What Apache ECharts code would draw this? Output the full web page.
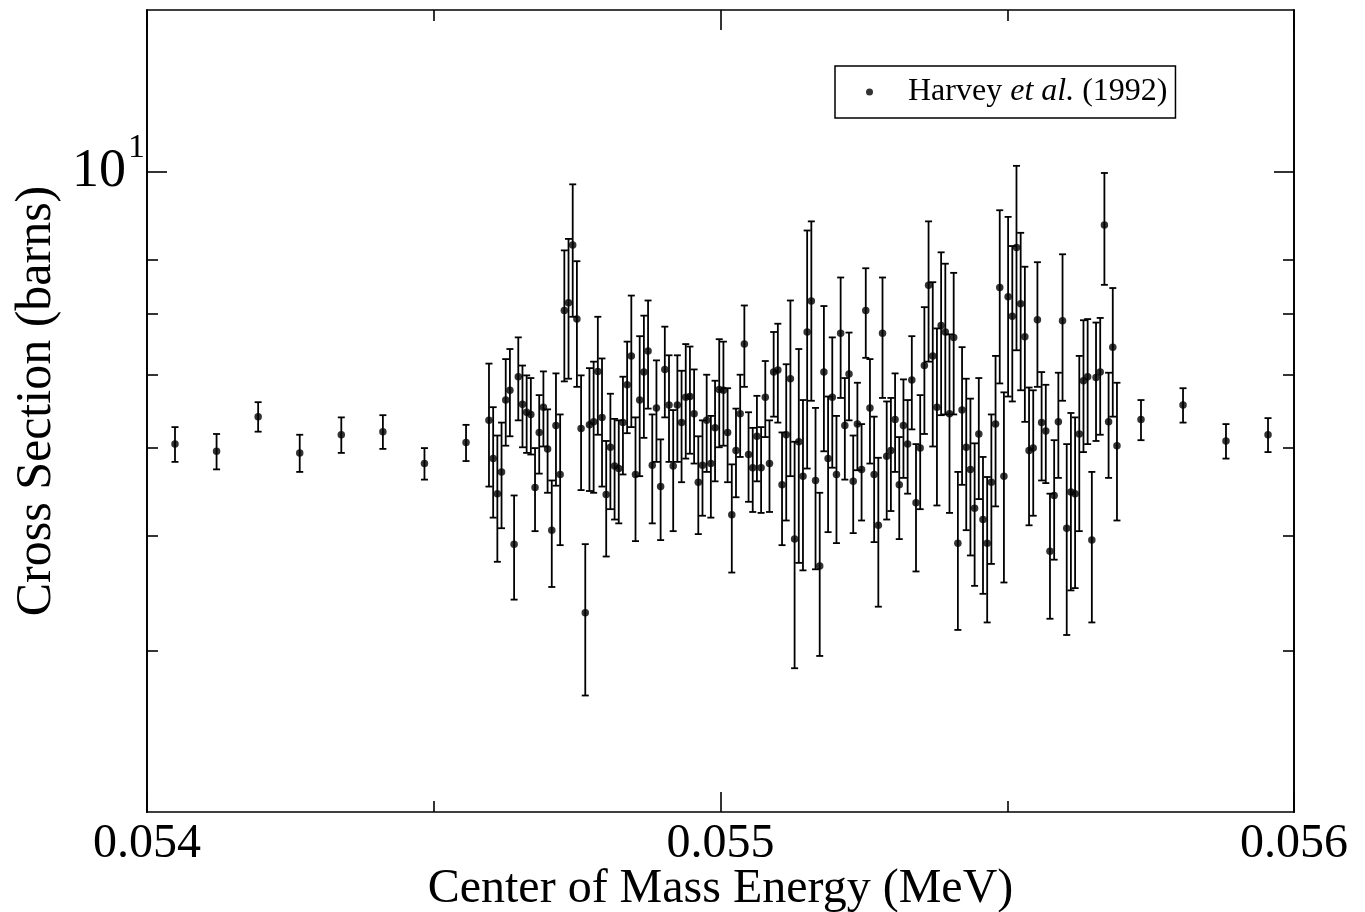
<!DOCTYPE html>
<html>
<head>
<meta charset="utf-8">
<title>Cross Section vs Center of Mass Energy</title>
<script src="https://cdn.jsdelivr.net/npm/echarts@6/dist/echarts.min.js"></script>
<style>
  html, body { margin: 0; padding: 0; background: #ffffff; }
  #chart { width: 1365px; height: 912px; }
</style>
</head>
<body>
<div id="chart"></div>
<script>
// Harvey et al. (1992): cross section (barns) vs centre-of-mass energy (MeV)

// coarse points below the scan
const lowEnergy = [0.0540488, 0.0541213, 0.0541938, 0.0542663, 0.0543388, 0.0544113, 0.0544838, 0.0545563];
const lowSigma  = [5.04, 4.95, 5.40, 4.93, 5.16, 5.20, 4.80, 5.06];
const lowError  = [0.22, 0.22, 0.20, 0.23, 0.23, 0.22, 0.19, 0.23];

// fine scan
const scanEnergy = [
  0.0545963, 0.0546036, 0.0546109, 0.0546182, 0.0546255, 0.0546328, 0.0546401, 0.0546474, 0.0546547, 0.0546620,
  0.0546693, 0.0546766, 0.0546839, 0.0546912, 0.0546985, 0.0547058, 0.0547131, 0.0547204, 0.0547277, 0.0547350,
  0.0547423, 0.0547496, 0.0547569, 0.0547642, 0.0547715, 0.0547788, 0.0547861, 0.0547934, 0.0548007, 0.0548080,
  0.0548153, 0.0548226, 0.0548299, 0.0548372, 0.0548445, 0.0548518, 0.0548591, 0.0548664, 0.0548737, 0.0548810,
  0.0548883, 0.0548956, 0.0549029, 0.0549102, 0.0549175, 0.0549248, 0.0549321, 0.0549394, 0.0549467, 0.0549540,
  0.0549613, 0.0549686, 0.0549759, 0.0549832, 0.0549905, 0.0549978, 0.0550051, 0.0550124, 0.0550197, 0.0550270,
  0.0550343, 0.0550416, 0.0550489, 0.0550562, 0.0550635, 0.0550708, 0.0550781, 0.0550854, 0.0550927, 0.0551000,
  0.0551073, 0.0551146, 0.0551219, 0.0551292, 0.0551365, 0.0551438, 0.0551511, 0.0551584, 0.0551657, 0.0551730,
  0.0551803, 0.0551876, 0.0551949, 0.0552022, 0.0552095, 0.0552168, 0.0552241, 0.0552314, 0.0552387, 0.0552460,
  0.0552533, 0.0552606, 0.0552679, 0.0552752, 0.0552825, 0.0552898, 0.0552971, 0.0553044, 0.0553117, 0.0553190,
  0.0553263, 0.0553336, 0.0553409, 0.0553482, 0.0553555, 0.0553628, 0.0553701, 0.0553774, 0.0553847, 0.0553920,
  0.0553993, 0.0554066, 0.0554139, 0.0554212, 0.0554285, 0.0554358, 0.0554431, 0.0554504, 0.0554577, 0.0554650,
  0.0554723, 0.0554796, 0.0554869, 0.0554942, 0.0555015, 0.0555088, 0.0555161, 0.0555234, 0.0555307, 0.0555380,
  0.0555453, 0.0555526, 0.0555599, 0.0555672, 0.0555745, 0.0555818, 0.0555891, 0.0555964, 0.0556037, 0.0556110,
  0.0556183, 0.0556256, 0.0556329, 0.0556402, 0.0556475, 0.0556548, 0.0556621, 0.0556694, 0.0556767, 0.0556840,
  0.0556913
];
const scanSigma = [
  5.35, 4.86, 4.45, 4.70, 5.63, 5.77, 3.92, 5.97, 5.57, 5.46, 5.43, 4.52, 5.19, 5.53, 4.98, 4.06, 5.28, 4.67,
  7.05, 7.19, 8.31, 6.90, 5.24, 3.30, 5.29, 5.33, 6.05, 5.39, 4.44, 5.00, 4.77, 4.74, 5.32, 5.85, 6.29, 4.67, 5.63,
  6.04, 6.37, 4.78, 5.52, 4.53, 6.08, 5.56, 4.77, 5.56, 5.32, 5.67, 5.68, 5.44, 4.58, 4.78, 5.35, 4.80, 5.25, 5.78,
  5.77, 5.19, 4.22, 4.96, 5.44, 6.48, 4.91, 4.75, 5.14, 4.75, 5.67, 4.80, 6.04, 6.07, 4.55, 5.16, 5.94, 3.97, 5.07, 4.65,
  6.68, 7.22, 4.60, 3.71, 6.04, 4.86, 5.67, 4.67, 6.66, 5.28, 6.01, 4.59, 5.30, 4.73, 7.05, 5.52, 4.67, 4.11, 6.66,
  4.89, 4.96, 5.36, 4.55, 5.28, 5.04, 5.92, 4.35, 4.99, 6.14, 7.51, 6.29, 5.53, 6.79, 6.68, 5.44, 6.59, 3.93, 5.49,
  5.00, 4.73, 4.29, 5.17, 4.17, 3.93, 4.58, 5.30, 7.47, 4.65, 7.30, 6.95, 8.26, 7.17, 6.60, 4.96, 4.99, 6.89,
  5.32, 5.21, 3.85, 4.43, 5.33, 6.87, 4.08, 4.47, 4.45, 5.17, 5.91, 5.97, 3.96, 5.96, 6.04, 8.74, 5.33, 6.43, 5.02
];
const scanError = [
  0.82, 0.67, 0.70, 0.62, 0.61, 0.63, 0.51, 0.62, 0.57, 0.53, 0.52, 0.47, 0.51, 0.52, 0.52, 0.54, 0.74, 0.76,
  1.15, 1.25, 1.37, 1.08, 0.75, 0.62, 0.81, 0.87, 0.89, 0.86, 0.64, 0.72, 0.60, 0.61, 0.65, 0.67, 1.03, 0.72, 0.98,
  0.92, 0.86, 0.65, 0.70, 0.57, 0.69, 0.74, 0.72, 0.74, 0.74, 0.81, 0.76, 0.64, 0.56, 0.57, 0.65, 0.61, 0.66, 0.78,
  0.75, 0.61, 0.57, 0.55, 0.56, 0.66, 0.55, 0.50, 0.55, 0.51, 0.54, 0.55, 0.64, 0.75, 0.64, 1.00, 1.29, 1.10, 1.33, 0.98,
  1.94, 1.60, 0.92, 0.75, 1.09, 0.82, 0.92, 0.74, 1.00, 0.67, 0.66, 0.56, 0.58, 0.57, 0.79, 0.72, 0.73, 0.76, 1.00,
  0.72, 0.70, 0.66, 0.58, 0.65, 0.59, 0.69, 0.69, 0.71, 0.97, 1.31, 1.28, 1.21, 1.37, 1.25, 1.20, 1.16, 0.77, 0.94,
  0.94, 0.92, 0.76, 0.78, 0.71, 0.71, 0.85, 0.99, 1.60, 1.09, 1.62, 1.34, 1.88, 1.40, 1.27, 0.85, 0.78, 1.07,
  0.72, 0.64, 0.60, 0.66, 0.70, 1.25, 0.96, 0.98, 0.94, 1.12, 0.97, 0.93, 0.74, 0.88, 0.88, 1.22, 0.70, 1.03, 0.86
];

// coarse points above the scan
const highEnergy = [0.0557332, 0.0558065, 0.0558814, 0.0559547];
const highSigma  = [5.36, 5.56, 5.08, 5.16];
const highError  = [0.27, 0.24, 0.22, 0.22];

// axis ticks
const xTicks = [0.054, 0.055, 0.056];
const yMajorTicks = [10];
const yMinorTicks = [3, 4, 5, 6, 7, 8];

const seriesName = 'Harvey et al. (1992)';
const FONT = 'Liberation Serif';

const energy = lowEnergy.concat(scanEnergy, highEnergy);
const sigma = lowSigma.concat(scanSigma, highSigma);
const error = lowError.concat(scanError, highError);

const points = energy.map((e, i) => [e, sigma[i]]);
const bars = energy.map((e, i) => [e, sigma[i], error[i]]);

const black = '#000000';
const frameLine = { show: true, onZero: false, lineStyle: { color: black, width: 1.7 } };

function xAxisDef(position, withLabels) {
  return {
    type: 'value',
    position: position,
    min: xTicks[0],
    max: xTicks[xTicks.length - 1],
    interval: 0.001,
    axisLine: frameLine,
    axisTick: { show: true, inside: true, length: 20, lineStyle: { color: black, width: 1.6 } },
    minorTick: { show: true, splitNumber: 2, length: 11, lineStyle: { color: black, width: 1.6 } },
    splitLine: { show: false },
    minorSplitLine: { show: false },
    axisLabel: withLabels ? {
      show: true,
      color: black,
      fontFamily: FONT,
      fontSize: 48,
      margin: 8,
      formatter: v => v.toFixed(3)
    } : { show: false },
    name: withLabels ? 'Center of Mass Energy (MeV)' : '',
    nameLocation: 'middle',
    nameGap: 53,
    nameMoveOverlap: false,
    nameTextStyle: { color: black, fontFamily: FONT, fontSize: 48 }
  };
}

function yAxisDef(position, ticks, tickLen, withLabels) {
  return {
    type: 'log',
    logBase: 10,
    position: position,
    min: 2,
    max: 15,
    axisLine: frameLine,
    axisTick: { show: true, inside: true, length: tickLen, customValues: ticks,
                lineStyle: { color: black, width: 1.6 } },
    minorTick: { show: false },
    splitLine: { show: false },
    axisLabel: withLabels ? {
      show: true,
      customValues: yMajorTicks,
      margin: 2,
      formatter: () => '{b|10}{s|1}',
      rich: {
        b: { fontFamily: FONT, fontSize: 54, color: black },
        s: { fontFamily: FONT, fontSize: 34, color: black, verticalAlign: 'bottom', padding: [0, 0, 46, 2] }
      }
    } : { show: false },
    name: withLabels ? 'Cross Section (barns)' : '',
    nameLocation: 'middle',
    nameGap: 85,
    nameRotate: 90,
    nameMoveOverlap: false,
    nameTextStyle: { color: black, fontFamily: FONT, fontSize: 50, padding: [0, 0, 0, 20] }
  };
}

const chart = echarts.init(document.getElementById('chart'), null, { renderer: 'canvas' });

chart.setOption({
  backgroundColor: '#ffffff',
  animation: false,
  grid: { left: 147, right: 71, top: 10, bottom: 100, containLabel: false, outerBoundsMode: 'none' },
  legend: {
    show: true,
    left: 835,
    top: 66,
    orient: 'vertical',
    data: [{ name: seriesName, icon: 'circle' }],
    itemWidth: 7,
    itemHeight: 7,
    padding: [10, 8, 10, 31],
    borderColor: black,
    borderWidth: 1.5,
    backgroundColor: '#ffffff',
    selectedMode: false,
    formatter: () => '{sp|}{t|Harvey }{i|et al.}{t| (1992)}',
    textStyle: {
      color: black,
      fontFamily: FONT,
      fontSize: 32,
      rich: {
        sp: { width: 30 },
        t: { fontFamily: FONT, fontSize: 32, color: black },
        i: { fontFamily: FONT, fontSize: 32, color: black, fontStyle: 'italic' }
      }
    }
  },
  xAxis: [xAxisDef('bottom', true), xAxisDef('top', false)],
  yAxis: [
    yAxisDef('left', yMajorTicks, 20, true),
    yAxisDef('left', yMinorTicks, 11, false),
    yAxisDef('right', yMajorTicks, 20, false),
    yAxisDef('right', yMinorTicks, 11, false)
  ],
  series: [
    {
      type: 'custom',
      name: 'error bars',
      xAxisIndex: 0,
      yAxisIndex: 0,
      silent: true,
      encode: { x: 0, y: 1 },
      data: bars,
      renderItem: function (params, api) {
        const x = api.value(0);
        const y = api.value(1);
        const e = api.value(2);
        const hi = api.coord([x, y + e]);
        const lo = api.coord([x, y - e]);
        const half = 3.5;
        const style = { stroke: black, lineWidth: 1.8 };
        return {
          type: 'group',
          children: [
            { type: 'line', shape: { x1: hi[0], y1: hi[1], x2: lo[0], y2: lo[1] }, style: style },
            { type: 'line', shape: { x1: hi[0] - half, y1: hi[1], x2: hi[0] + half, y2: hi[1] }, style: style },
            { type: 'line', shape: { x1: lo[0] - half, y1: lo[1], x2: lo[0] + half, y2: lo[1] }, style: style }
          ]
        };
      },
      z: 2
    },
    {
      type: 'scatter',
      name: seriesName,
      xAxisIndex: 0,
      yAxisIndex: 0,
      data: points,
      symbol: 'circle',
      symbolSize: 7.5,
      itemStyle: { color: black },
      z: 3
    }
  ]
});
</script>
</body>
</html>
